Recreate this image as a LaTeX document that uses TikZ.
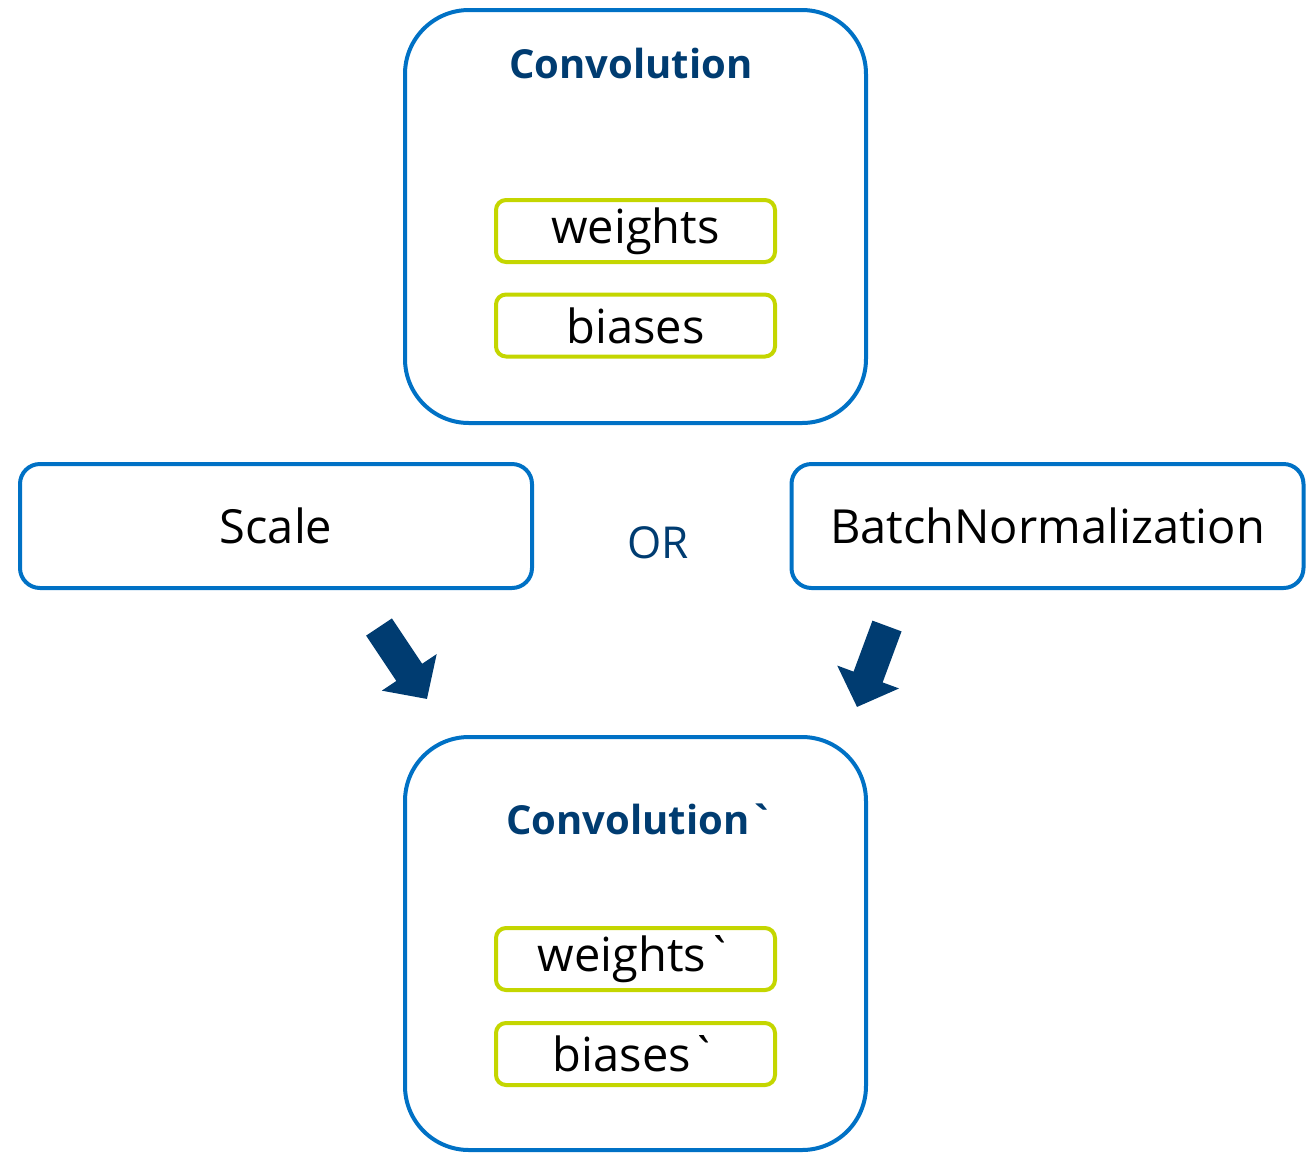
\documentclass[tikz,border=0pt]{standalone}
\usepackage{fontspec}
\setmainfont{Open Sans}
\usetikzlibrary{arrows.meta}
\definecolor{layerblue}{HTML}{0071C5}
\definecolor{darkblue}{HTML}{003C71}
\definecolor{paramgreen}{HTML}{C4D600}
\begin{document}
\begin{tikzpicture}[x=0.5pt,y=-0.5pt,
    layer/.style={draw=layerblue, line width=2pt, rounded corners=32pt,
        minimum width=230.5pt, minimum height=206.5pt},
    param/.style={draw=paramgreen, line width=2pt, rounded corners=5pt,
        minimum width=139.5pt, minimum height=31pt, font=\fontsize{23.5}{28}\selectfont},
    op/.style={draw=layerblue, line width=2pt, rounded corners=10pt,
        minimum width=256pt, minimum height=62pt, font=\fontsize{23.5}{28}\selectfont},
    title/.style={text=darkblue, font=\bfseries\fontsize{20}{24}\selectfont},
    fuse/.style={draw=darkblue, fill=darkblue, line width=15.5pt,
        -{Triangle[width=32pt, length=16pt]}}]
    \useasboundingbox (0,0) rectangle (1314,1153);

    % Original convolution
    \node (conv) [layer] at (635.5,216.5) {};
    \node (convtitle) [title] at (631,63) {Convolution};
    \node (w) [param] at (635.5,231) {weights};
    \node (b) [param] at (635.5,325.5) {biases};

    % Scale or batch normalization
    \node (scale) [op] at (276,526) {Scale};
    \node (or) [text=darkblue, font=\fontsize{22}{26}\selectfont] at (658,543) {OR};
    \node (bn) [op] at (1047.5,526) {BatchNormalization};

    % Fusing arrows
    \coordinate (ls) at (379,627);
    \coordinate (le) at (427,699);
    \coordinate (rs) at (887,626);
    \coordinate (re) at (857,707);
    \draw[fuse] (ls) -- (le);
    \draw[fuse] (rs) -- (re);

    % Fused convolution
    \node (fconv) [layer] at (635.5,943.5) {};
    \node (fconvtitle) [title] at (640,819) {Convolution\textasciigrave};
    \node (fw) [param] at (635.5,959) {weights\textasciigrave};
    \node (fb) [param] at (635.5,1054) {biases\textasciigrave};
\end{tikzpicture}
\end{document}
